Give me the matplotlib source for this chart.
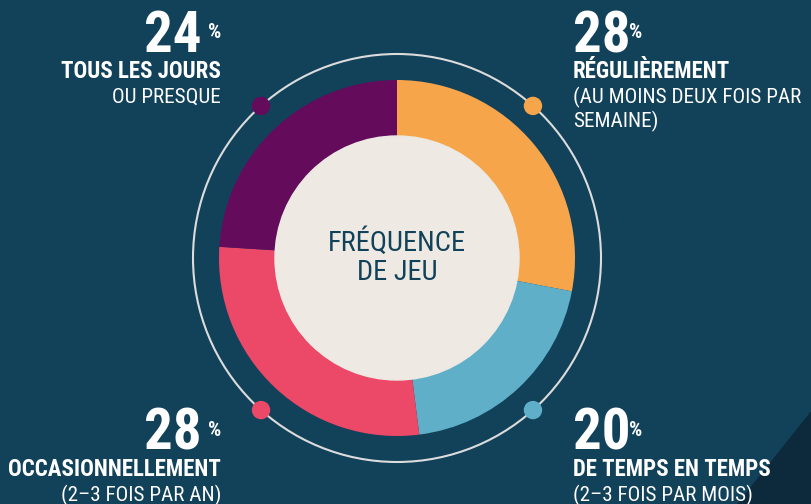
import matplotlib
matplotlib.use("Agg")
import matplotlib.pyplot as plt
from matplotlib import font_manager
from matplotlib.patches import Circle, Polygon
import numpy as np

# données
categories = ["Régulièrement", "De temps en temps", "Occasionnellement", "Tous les jours"]
values = [28, 20, 28, 24]
colors = ["#F6A54B", "#5FAFC9", "#EC4868", "#650B5C"]
titles = ["RÉGULIÈREMENT", "DE TEMPS EN TEMPS", "OCCASIONNELLEMENT", "TOUS LES JOURS"]
subtitles = [["(AU MOINS DEUX FOIS PAR", "SEMAINE)"], ["(2–3 FOIS PAR MOIS)"],
             ["(2–3 FOIS PAR AN)"], ["OU PRESQUE"]]

BG = "#12415A"
CENTER = "#EEEAE3"

available = {f.name for f in font_manager.fontManager.ttflist}
font = "DejaVu Sans"
for cand in ["Roboto Condensed", "Liberation Sans Narrow", "Roboto"]:
    if cand in available:
        font = cand
        break
plt.rcParams["font.family"] = [font, "DejaVu Sans"]

W, H = 812, 504
fig = plt.figure(figsize=(W / 100, H / 100), dpi=100, facecolor=BG)
ax = fig.add_axes([0, 0, 1, 1])

# coin sombre en bas à droite
ax.add_patch(Polygon([(812, 94), (812, 0), (737, 0)], closed=True, color="#0C2A3C", zorder=0))

cx, cy = 397, 246
# anneau fin extérieur
ax.add_patch(Circle((cx, cy), 204, fill=False, ec="#DCDCDC", lw=1.5, zorder=1))

ax.pie(values, colors=colors, startangle=90, counterclock=False, radius=178,
       center=(cx, cy), wedgeprops=dict(width=56, linewidth=0), frame=True)
ax.set_xlim(0, W)
ax.set_ylim(0, H)
ax.set_aspect("equal")
ax.axis("off")
ax.add_patch(Circle((cx, cy), 122, color=CENTER, zorder=3))

# points sur l'anneau
dot_angles = [48.2, -48.2, -131.8, 131.8]
for ang, c in zip(dot_angles, colors):
    a = np.deg2rad(ang)
    ax.add_patch(Circle((cx + 204 * np.cos(a), cy + 204 * np.sin(a)), 8.5, color=c, zorder=4))

ax.text(cx, cy + 15, "FRÉQUENCE", ha="center", va="center", fontsize=20.5,
        color=BG, zorder=5)
ax.text(cx, cy - 15, "DE JEU", ha="center", va="center", fontsize=20.5,
        color=BG, zorder=5)

# étiquettes
layout = [  # x, y du nombre (baseline), alignement
    (573, 452, "left"),
    (573, 54, "left"),
    (221, 54, "right"),
    (221, 452, "right"),
]
for (x, yb, ha), v, t, s in zip(layout, values, titles, subtitles):
    if ha == "left":
        ax.text(x, yb, f"{v}", ha="left", va="baseline", fontsize=41,
                fontweight="bold", color="white")
        ax.text(x + 56, yb + 14, "%", ha="left", va="baseline", fontsize=15,
                fontweight="bold", color="white")
    else:
        ax.text(x - 19, yb, f"{v}", ha="right", va="baseline", fontsize=41,
                fontweight="bold", color="white")
        ax.text(x, yb + 14, "%", ha="right", va="baseline", fontsize=15,
                fontweight="bold", color="white")
    ax.text(x, yb - 26, t, ha=ha, va="baseline", fontsize=16.5, fontweight="bold",
            color="white")
    for i, line in enumerate(s):
        ax.text(x, yb - 51 - 24.5 * i, line, ha=ha, va="baseline", fontsize=15.2,
                color="white")

fig.savefig("out.png", dpi=100, facecolor=BG)
